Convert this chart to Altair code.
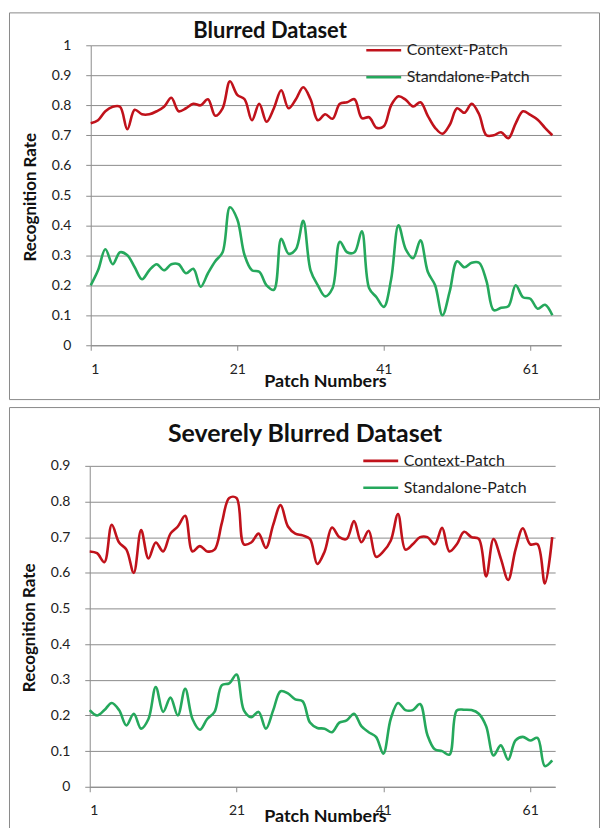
import altair as alt
import pandas as pd

patches = list(range(1, 65))

blurred_context = [0.74, 0.75, 0.78, 0.795, 0.795, 0.72, 0.785, 0.77, 0.77, 0.78,
                   0.795, 0.825, 0.78, 0.79, 0.805, 0.80, 0.82, 0.765, 0.79, 0.88,
                   0.835, 0.82, 0.75, 0.805, 0.745, 0.79, 0.85, 0.79, 0.82, 0.86,
                   0.82, 0.75, 0.77, 0.755, 0.805, 0.81, 0.82, 0.757, 0.76, 0.725,
                   0.73, 0.80, 0.83, 0.818, 0.796, 0.81, 0.765, 0.725, 0.705, 0.735,
                   0.79, 0.775, 0.805, 0.77, 0.70, 0.70, 0.71, 0.69, 0.74, 0.78,
                   0.768, 0.752, 0.725, 0.70]
blurred_standalone = [0.20, 0.25, 0.32, 0.27, 0.31, 0.30, 0.26, 0.22, 0.25, 0.27,
                      0.25, 0.27, 0.27, 0.24, 0.255, 0.195, 0.24, 0.28, 0.31, 0.46,
                      0.42, 0.30, 0.25, 0.245, 0.20, 0.185, 0.355, 0.305, 0.32, 0.415,
                      0.25, 0.20, 0.163, 0.19, 0.345, 0.31, 0.31, 0.38, 0.19, 0.16,
                      0.128, 0.22, 0.40, 0.32, 0.29, 0.35, 0.245, 0.20, 0.10, 0.18,
                      0.28, 0.26, 0.275, 0.275, 0.215, 0.117, 0.125, 0.13, 0.20, 0.16,
                      0.155, 0.122, 0.135, 0.10]
severe_context = [0.66, 0.655, 0.63, 0.735, 0.685, 0.665, 0.60, 0.72, 0.64, 0.685,
                  0.66, 0.71, 0.73, 0.76, 0.66, 0.675, 0.66, 0.665, 0.74, 0.81,
                  0.81, 0.68, 0.685, 0.71, 0.67, 0.735, 0.79, 0.73, 0.71, 0.705,
                  0.695, 0.625, 0.66, 0.727, 0.70, 0.695, 0.745, 0.686, 0.718, 0.645,
                  0.66, 0.69, 0.765, 0.665, 0.68, 0.70, 0.70, 0.68, 0.726, 0.66,
                  0.68, 0.715, 0.70, 0.695, 0.59, 0.695, 0.64, 0.58, 0.665, 0.725,
                  0.68, 0.68, 0.57, 0.70]
severe_standalone = [0.215, 0.20, 0.215, 0.235, 0.215, 0.172, 0.205, 0.163, 0.19, 0.28,
                     0.21, 0.25, 0.20, 0.275, 0.19, 0.16, 0.19, 0.21, 0.285, 0.29,
                     0.315, 0.214, 0.195, 0.21, 0.163, 0.215, 0.268, 0.262, 0.245, 0.24,
                     0.18, 0.165, 0.163, 0.153, 0.18, 0.186, 0.205, 0.17, 0.153, 0.14,
                     0.093, 0.19, 0.235, 0.215, 0.215, 0.232, 0.145, 0.105, 0.10, 0.09,
                     0.214, 0.216, 0.215, 0.205, 0.17, 0.088, 0.116, 0.076, 0.13, 0.14,
                     0.13, 0.137, 0.058, 0.074]

panel_titles = ["Blurred Dataset", "Severely Blurred Dataset"]
series_names = ["Context-Patch", "Standalone-Patch"]
series_colors = ["#C0121B", "#25A85C"]
x_ticks = [1, 21, 41, 61]
y_ticks_top = [0, 0.1, 0.2, 0.3, 0.4, 0.5, 0.6, 0.7, 0.8, 0.9, 1]
y_ticks_bottom = [0, 0.1, 0.2, 0.3, 0.4, 0.5, 0.6, 0.7, 0.8, 0.9]

FONT = "Lato"
GRID = "#8c8c8c"


def long_df(ctx, std):
    return pd.DataFrame({
        "Patch": patches + patches,
        "Rate": ctx + std,
        "Series": [series_names[0]] * len(ctx) + [series_names[1]] * len(std),
    })


def panel(df, title, title_size, title_x, title_y, W, H, xdom, xrng, ydom, yrng,
          yvals, xtitle_y, ytitle_y, leg_x, leg_y):
    lines = alt.Chart(df).mark_line(interpolate="catmull-rom", strokeWidth=2.6).encode(
        x=alt.X("Patch:Q",
                scale=alt.Scale(domain=xdom, range=xrng, nice=False, zero=False),
                axis=alt.Axis(values=x_ticks, format="d", grid=False,
                              offset=yrng[0] - H, tickSize=5, labelPadding=12,
                              domainColor=GRID, tickColor=GRID,
                              labelFont=FONT, labelFontSize=14, labelColor="#222",
                              title="Patch Numbers", titleFont=FONT, titleFontSize=18,
                              titleFontWeight="bold", titleColor="#111",
                              titleX=317, titleY=xtitle_y, titleBaseline="middle",
                              titleAlign="center")),
        y=alt.Y("Rate:Q",
                scale=alt.Scale(domain=ydom, range=yrng, nice=False, zero=False),
                axis=alt.Axis(values=yvals, format="~g", grid=True, gridColor=GRID,
                              gridWidth=1, offset=-xrng[0], tickSize=5, labelPadding=15,
                              domainColor=GRID, tickColor=GRID,
                              labelFont=FONT, labelFontSize=14, labelColor="#222",
                              title="Recognition Rate", titleFont=FONT, titleFontSize=17,
                              titleFontWeight="bold", titleColor="#111",
                              titleAngle=270, titleX=-60, titleY=ytitle_y,
                              titleBaseline="middle", titleAlign="center")),
        color=alt.Color("Series:N",
                        scale=alt.Scale(domain=series_names, range=series_colors),
                        legend=alt.Legend(orient="none", legendX=leg_x, legendY=leg_y,
                                          title=None, symbolType="stroke",
                                          symbolSize=1225, symbolStrokeWidth=2.6,
                                          labelFont=FONT, labelFontSize=16,
                                          labelColor="#222", labelOffset=4,
                                          rowPadding=0, padding=0)),
    )
    heading = alt.Chart(pd.DataFrame({"t": [title]})).mark_text(
        font=FONT, fontSize=title_size, fontWeight="bold", color="#111",
        align="center", baseline="middle"
    ).encode(text="t:N", x=alt.value(title_x), y=alt.value(title_y))
    return alt.layer(lines, heading).properties(width=W, height=H)


top = panel(long_df(blurred_context, blurred_standalone), panel_titles[0], 22, 262, 19,
            592, 388, [1, 65.2], [82, 554], [0, 1], [334, 33], y_ticks_top,
            36, 185, 357, 19)
bottom = panel(long_df(severe_context, severe_standalone), panel_titles[1], 25, 297, 27,
               592, 432, [1, 64.4], [81, 548], [0, 0.9], [381, 59], y_ticks_bottom,
               30, 221, 354, 35)

chart = alt.vconcat(top, bottom, spacing=6).resolve_scale(
    color="independent"
).resolve_legend(
    color="independent"
).properties(
    padding={"left": 0, "top": 2, "right": 0, "bottom": 0}
).configure_view(stroke="#8a8a8a", strokeWidth=1)

chart.save("out.html", embed_options={"renderer": "svg", "actions": False})
